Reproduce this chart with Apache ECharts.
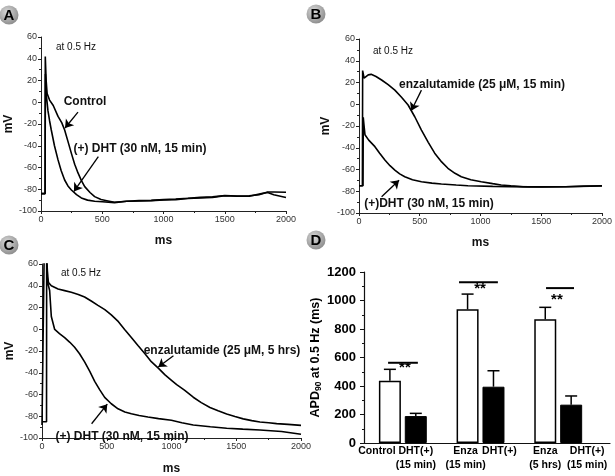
<!DOCTYPE html>
<html><head><meta charset="utf-8">
<script src="https://cdn.jsdelivr.net/npm/echarts@6.0.0/dist/echarts.min.js"></script>
<style>html,body{margin:0;padding:0;background:#fff}#c{width:615px;height:476px}</style>
</head><body><div id="c"></div>
<script>
// ---------- DATA ----------
// Panel A (ms, mV)
const aControl = [[0,-84],[34,-84],[35,42],[42,20],[50,8],[70,2],[100,-3],[139,-13],[170,-19],[193,-25.5],[220,-36],[248,-47],[275,-57],[302,-65],[330,-72],[357,-77.6],[400,-83],[438,-86.8],[490,-89.5],[547,-90.8],[600,-92],[700,-91],[800,-90.5],[900,-90.2],[1000,-89.5],[1100,-89],[1200,-88.3],[1300,-87.5],[1400,-87],[1500,-85.8],[1600,-86.2],[1700,-86],[1780,-85],[1850,-82.5],[1900,-82.5],[2000,-82.8]];
const aDHT = [[0,-84],[33,-84],[36,26],[45,5],[57,-8],[70,-17],[84,-25.5],[110,-40],[139,-53],[165,-63],[193,-71.5],[220,-77],[248,-80.7],[290,-85],[329,-88],[380,-90],[438,-91],[500,-91.5],[600,-92.3],[700,-91],[800,-90.8],[900,-90.5],[1000,-89.8],[1100,-89.5],[1200,-88.5],[1300,-88],[1400,-87.5],[1500,-86],[1600,-86.5],[1700,-86.5],[1800,-84],[1850,-83],[1900,-85],[2000,-87.5]];
// Panel B
const bEnza = [[0,-75],[28,-75],[30,31],[38,31],[42,24],[55,25],[76,27],[100,27.5],[140,25.5],[186,22.3],[240,18],[295,13],[350,6.5],[404,-0.7],[459,-11.5],[514,-23.7],[570,-35],[623,-45],[680,-53],[732,-58.9],[790,-63.5],[842,-66.6],[920,-69.5],[1006,-71.2],[1100,-73],[1170,-74.3],[1250,-75],[1350,-75.8],[1500,-76],[1700,-75.8],[1850,-75.3],[2000,-75]];
const bDHT = [[0,-75],[33,-75],[35,-12],[40,-18],[49,-28],[80,-33],[131,-39],[170,-45],[213,-51.3],[255,-56.5],[295,-60.5],[335,-64],[377,-66.6],[440,-69.5],[514,-71.2],[600,-72.5],[678,-73.3],[800,-74.3],[896,-74.9],[1100,-75.5],[1400,-76],[1700,-75.8],[2000,-75.2]];
// Panel C
const cEnza = [[0,-88],[15,-88],[16,62],[38,62],[44,48],[50,43],[72,40],[124,37],[175,35.5],[226,34],[280,32],[329,29.6],[380,26],[432,22],[485,18],[535,13.2],[590,7],[638,-0.2],[690,-7.5],[741,-15],[795,-22.5],[844,-29.8],[900,-36],[950,-42],[1000,-47],[1040,-51],[1100,-56],[1168,-62.5],[1230,-67.5],[1297,-71.9],[1360,-75],[1426,-77.9],[1490,-80.3],[1554,-82.4],[1620,-84],[1683,-85.3],[1750,-86],[1812,-86.8],[1900,-87.5],[2000,-88.4]];
const cDHT = [[0,-85],[35,-85],[36,62],[40,62],[46,42],[59,35.6],[72,11.7],[98,-0.2],[135,-4],[175,-7.7],[215,-12],[252,-16.6],[290,-22.5],[329,-30],[370,-39],[407,-47.9],[445,-55.5],[484,-62.7],[535,-68.5],[587,-73.2],[640,-76],[690,-77.7],[750,-79.3],[818,-80.7],[900,-82.2],[999,-83.7],[1080,-86],[1168,-88.1],[1300,-89.6],[1426,-91],[1550,-91.8],[1683,-92.6],[1850,-94],[2000,-96.5]];
// Panel D
const dCats = ['Control','DHT(+)\n(15 min)','Enza\n(15 min)','DHT(+)','Enza\n(5 hrs)','DHT(+)\n(15 min)'];
const dPos = [1,2,4,5,7,8];
const dValues = [437,189,938,395,868,269];
const dErrTop = [517,208,1045,507,952,330];
const dFilled = [false,true,false,true,false,true];
const sigLines = [[0.93,2.08,563],[3.67,5.17,1128],[7.03,8.11,1087]];
const sigStars = [[1.58,528],[4.48,1085],[7.45,1002]];
// annotation arrows [from, to] in data units
const arrowsA = [[[302,-9],[196,-23.7]],[[468,-50],[269,-82]]];
const arrowsB = [[[514,13],[430,-5.9]],[[186,-85],[330,-69.9]]];
const arrowsC = [[[1015,-24.3],[898,-34.8]],[[383,-86.9],[504,-68.9]]];

// ---------- CHART ----------
const FONT = '"Liberation Sans", Arial, sans-serif';
const chart = echarts.init(document.getElementById('c'), null, {renderer:'canvas'});

const grids = [
  {left:41, top:37, width:245, height:174},
  {left:359, top:39, width:244, height:174},
  {left:42, top:264, width:259, height:179},
  {left:364, top:272, width:246, height:171}
];
const plain = v => String(v);

function traceX(i, gap){
  return {type:'value', gridIndex:i, min:0, max:2000, interval:500,
    name:'ms', nameLocation:'middle', nameGap:gap,
    nameTextStyle:{fontFamily:FONT, fontWeight:'bold', fontSize:12, color:'#111'},
    axisLine:{show:true, onZero:false, lineStyle:{color:'#222', width:1}},
    axisTick:{show:true, length:3, lineStyle:{color:'#222'}},
    minorTick:{show:true, splitNumber:2, length:2, lineStyle:{color:'#222'}},
    splitLine:{show:false},
    axisLabel:{fontFamily:FONT, fontSize:9, color:'#333', margin:4, formatter:plain}};
}
function traceY(i, gap){
  return {type:'value', gridIndex:i, min:-100, max:60, interval:20,
    name:'mV', nameLocation:'middle', nameGap:gap,
    nameTextStyle:{fontFamily:FONT, fontWeight:'bold', fontSize:12, color:'#111'},
    axisLine:{show:true, onZero:false, lineStyle:{color:'#222', width:1}},
    axisTick:{show:true, length:3, lineStyle:{color:'#222'}},
    minorTick:{show:true, splitNumber:2, length:2, lineStyle:{color:'#222'}},
    splitLine:{show:false},
    axisLabel:{fontFamily:FONT, fontSize:9, color:'#333', margin:4, formatter:plain}};
}
function arrowMark(arr){
  return {silent:true, symbol:['none','arrow'], symbolSize:8, animation:false,
    label:{show:false}, emphasis:{disabled:true}, lineStyle:{color:'#000', width:1.3, type:'solid'},
    itemStyle:{color:'#000'},
    data: arr.map(a => [{coord:a[0]},{coord:a[1]}])};
}
function trace(data, i, mark){
  const s = {type:'line', xAxisIndex:i, yAxisIndex:i, data:data, showSymbol:false, symbol:'none',
    smooth:false, clip:true, lineStyle:{color:'#000', width:1.6}, animation:false, silent:true};
  if (mark) s.markLine = arrowMark(mark);
  return s;
}

// horizontal nudges of the D labels: style key per tick position
const labelStyleKey = {1:'l', 2:'t', 4:'e', 5:'m', 7:'t', 8:'r'};
const posToCat = {}; dPos.forEach((p,k)=>posToCat[p]=k);

const whiteData = [], blackData = [], errData = [];
dPos.forEach((p,k)=>{
  (dFilled[k] ? blackData : whiteData).push([p, dValues[k]]);
  errData.push([p, dValues[k], dErrTop[k]]);
});
const dLab = {fontFamily:FONT, fontWeight:'bold', fontSize:10.5, color:'#000', lineHeight:14};

const option = {
  animation:false,
  grid: grids,
  xAxis: [traceX(0,24), traceX(1,24), traceX(2,25),
    {type:'value', gridIndex:3, min:0, max:9.5, interval:1,
      axisLine:{show:true, onZero:false, lineStyle:{color:'#111', width:1.2}},
      axisTick:{show:false}, splitLine:{show:false},
      axisLabel:{show:true, margin:1, showMaxLabel:false, showMinLabel:false, hideOverlap:false,
        formatter:function(v){
          if (!(v in posToCat)) return '';
          const k = labelStyleKey[v];
          return dCats[posToCat[v]].split('\n').map(t=>'{'+k+'|'+t+'}').join('\n');
        },
        rich:{t:dLab,
          l:Object.assign({}, dLab, {padding:[0,26,0,0]}),
          e:Object.assign({}, dLab, {padding:[0,4,0,0]}),
          m:Object.assign({}, dLab, {padding:[0,0,0,12]}),
          r:Object.assign({}, dLab, {padding:[0,0,0,32]})}
      }}],
  yAxis: [traceY(0,26), traceY(1,27), traceY(2,26),
    {type:'value', gridIndex:3, min:0, max:1200, interval:200,
      name:'{a|APD}{s|90}{a| at 0.5 Hz (ms)}', nameLocation:'middle', nameGap:37,
      nameTextStyle:{rich:{
        a:{fontFamily:FONT, fontWeight:'bold', fontSize:12.5, color:'#000', lineHeight:16, verticalAlign:'middle'},
        s:{fontFamily:FONT, fontWeight:'bold', fontSize:8.5, color:'#000', lineHeight:16, verticalAlign:'bottom', padding:[5,0,0,0]}}},
      axisLine:{show:true, onZero:false, lineStyle:{color:'#111', width:1.2}},
      axisTick:{show:true, length:4, lineStyle:{color:'#111'}},
      minorTick:{show:true, splitNumber:2, length:2, lineStyle:{color:'#111'}},
      splitLine:{show:false},
      axisLabel:{fontFamily:FONT, fontWeight:'bold', fontSize:13, color:'#000', margin:8, formatter:plain}}],
  series: [
    trace(aControl,0,arrowsA), trace(aDHT,0),
    trace(bEnza,1,arrowsB), trace(bDHT,1),
    trace(cEnza,2,arrowsC), trace(cDHT,2),
    {type:'bar', xAxisIndex:3, yAxisIndex:3, data:whiteData, barWidth:22, silent:true,
      itemStyle:{color:'#fff', borderColor:'#000', borderWidth:1.5}},
    {type:'bar', xAxisIndex:3, yAxisIndex:3, data:blackData, barWidth:22, barGap:'-100%', silent:true,
      itemStyle:{color:'#000', borderColor:'#000', borderWidth:1}},
    {type:'custom', xAxisIndex:3, yAxisIndex:3, data:errData, z:5, silent:true,
      renderItem:function(params, api){
        const p0 = api.coord([api.value(0), api.value(1)]);
        const p1 = api.coord([api.value(0), api.value(2)]);
        const st = {stroke:'#000', lineWidth:1.5};
        return {type:'group', children:[
          {type:'line', shape:{x1:p0[0], y1:p0[1], x2:p1[0], y2:p1[1]}, style:st},
          {type:'line', shape:{x1:p1[0]-6, y1:p1[1], x2:p1[0]+6, y2:p1[1]}, style:st}
        ]};
      }},
    {type:'custom', xAxisIndex:3, yAxisIndex:3, data:sigLines, z:5, silent:true,
      renderItem:function(params, api){
        const p0 = api.coord([api.value(0), api.value(2)]);
        const p1 = api.coord([api.value(1), api.value(2)]);
        return {type:'line', shape:{x1:p0[0], y1:p0[1], x2:p1[0], y2:p1[1]}, style:{stroke:'#000', lineWidth:2}};
      }},
    {type:'custom', xAxisIndex:3, yAxisIndex:3, data:sigStars, z:5, silent:true,
      renderItem:function(params, api){
        const p = api.coord([api.value(0), api.value(1)]);
        return {type:'text', x:p[0], y:p[1], style:{text:'**', font:'bold 15px '+FONT, fill:'#000',
          align:'center', verticalAlign:'middle', textAlign:'center', textVerticalAlign:'middle'}};
      }}
  ],
  graphic: []
};

function letter(cx, cy, t){
  return [{type:'circle', shape:{cx:cx, cy:cy, r:9.5}, z:10,
      style:{fill:new echarts.graphic.RadialGradient(0.4,0.35,0.7,[{offset:0,color:'#d8d8d8'},{offset:1,color:'#8a8a8a'}])}},
    {type:'text', x:cx, y:cy+0.5, z:11, style:{text:t, font:'bold 15px '+FONT, fill:'#000',
      align:'center', verticalAlign:'middle', textAlign:'center', textVerticalAlign:'middle'}}];
}
function txt(x, y, t, font){
  return {type:'text', x:x, y:y, z:10, style:{text:t, font:font, fill:'#111',
    align:'center', verticalAlign:'middle', textAlign:'center', textVerticalAlign:'middle'}};
}
const small = '10px '+FONT, bold = 'bold 12px '+FONT;
option.graphic = [].concat(
  letter(9,15,'A'), letter(316,14,'B'), letter(9,245,'C'), letter(316,240,'D'),
  [txt(76,47,'at 0.5 Hz',small), txt(393,51,'at 0.5 Hz',small), txt(81,273,'at 0.5 Hz',small),
   txt(85,102,'Control',bold), txt(140,149,'(+) DHT (30 nM, 15 min)',bold),
   txt(482,85,'enzalutamide (25 \u03bcM, 15 min)',bold), txt(429,204,'(+)DHT (30 nM, 15 min)',bold),
   txt(222,351,'enzalutamide (25 \u03bcM, 5 hrs)',bold), txt(122,437,'(+) DHT (30 nM, 15 min)',bold)]
);

chart.setOption(option);
</script>
</body></html>
